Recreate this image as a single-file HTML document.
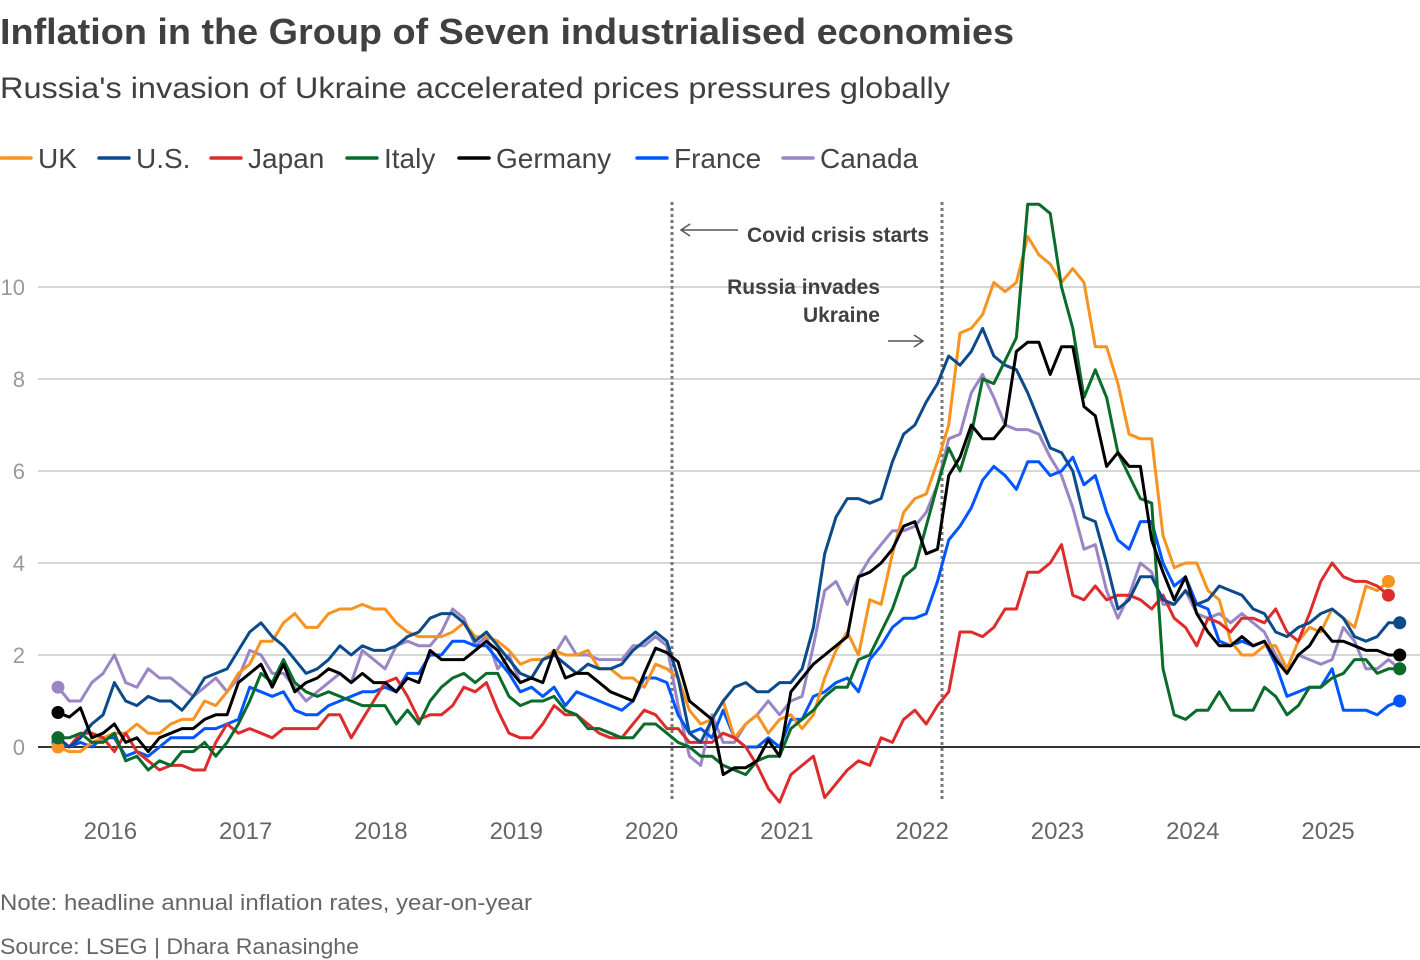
<!DOCTYPE html>
<html><head><meta charset="utf-8"><style>
body{margin:0;background:#fff;width:1420px;height:960px;overflow:hidden;font-family:"Liberation Sans",sans-serif}
svg{position:absolute;left:0;top:0}
</style></head><body>
<svg id="chart" width="1420" height="960">
<text x="0" y="44" font-size="36" font-weight="bold" fill="#404040" textLength="1014" lengthAdjust="spacingAndGlyphs">Inflation in the Group of Seven industrialised economies</text>
<text x="0" y="98" font-size="30" fill="#404040" textLength="950" lengthAdjust="spacingAndGlyphs">Russia's invasion of Ukraine accelerated prices pressures globally</text>
<g id="legend"></g>
<g id="grid"></g>
<g id="xaxis"></g>
<g id="events">
<line x1="672" y1="202" x2="672" y2="802" stroke="#777" stroke-width="3" stroke-dasharray="3,3"/>
<line x1="942" y1="202" x2="942" y2="802" stroke="#777" stroke-width="3" stroke-dasharray="3,3"/>
<g>
<line x1="682" y1="230" x2="738" y2="230" stroke="#555" stroke-width="1.5"/><path d="M690,224 L681,230 L690,236" fill="none" stroke="#555" stroke-width="1.5"/>
<text x="747" y="242" font-size="21" font-weight="bold" fill="#404040">Covid crisis starts</text></g>
<g>
<text x="880" y="294" font-size="21" font-weight="bold" fill="#404040" text-anchor="end">Russia invades</text>
<text x="880" y="322" font-size="21" font-weight="bold" fill="#404040" text-anchor="end">Ukraine</text>
<line x1="888" y1="341" x2="922" y2="341" stroke="#555" stroke-width="1.5"/><path d="M914,335 L923,341 L914,347" fill="none" stroke="#555" stroke-width="1.5"/></g>
</g>
<g id="series"></g>
<text x="0" y="910" font-size="22" fill="#666" textLength="532" lengthAdjust="spacingAndGlyphs">Note: headline annual inflation rates, year-on-year</text>
<text x="0" y="954" font-size="22" fill="#666" textLength="359" lengthAdjust="spacingAndGlyphs">Source: LSEG | Dhara Ranasinghe</text>
</svg>
<script>
// months indexed from Aug 2015
const yTicks=[0,2,4,6,8,10];
const years=[2016,2017,2018,2019,2020,2021,2022,2023,2024,2025];
const names=["UK","U.S.","Japan","Italy","Germany","France","Canada"];
const uk=[0.0,-0.1,-0.1,0.1,0.2,
0.3,0.3,0.5,0.3,0.3,0.5,0.6,0.6,1.0,0.9,1.2,1.6,
1.8,2.3,2.3,2.7,2.9,2.6,2.6,2.9,3.0,3.0,3.1,3.0,
3.0,2.7,2.5,2.4,2.4,2.4,2.5,2.7,2.4,2.4,2.3,2.1,
1.8,1.9,1.9,2.1,2.0,2.0,2.1,1.7,1.7,1.5,1.5,1.3,
1.8,1.7,1.5,0.8,0.5,0.6,1.0,0.2,0.5,0.7,0.3,0.6,
0.7,0.4,0.7,1.5,2.1,2.5,2.0,3.2,3.1,4.2,5.1,5.4,
5.5,6.2,7.0,9.0,9.1,9.4,10.1,9.9,10.1,11.1,10.7,10.5,
10.1,10.4,10.1,8.7,8.7,7.9,6.8,6.7,6.7,4.6,3.9,4.0,
4.0,3.4,3.2,2.3,2.0,2.0,2.2,2.2,1.7,2.3,2.6,2.5,
3.0,2.8,2.6,3.5,3.4,3.6];
const us=[0.2,0.0,0.2,0.5,0.7,
1.4,1.0,0.9,1.1,1.0,1.0,0.8,1.1,1.5,1.6,1.7,2.1,
2.5,2.7,2.4,2.2,1.9,1.6,1.7,1.9,2.2,2.0,2.2,2.1,
2.1,2.2,2.4,2.5,2.8,2.9,2.9,2.7,2.3,2.5,2.2,1.9,
1.6,1.5,1.9,2.0,1.8,1.6,1.8,1.7,1.7,1.8,2.1,2.3,
2.5,2.3,1.5,0.3,0.1,0.6,1.0,1.3,1.4,1.2,1.2,1.4,
1.4,1.7,2.6,4.2,5.0,5.4,5.4,5.3,5.4,6.2,6.8,7.0,
7.5,7.9,8.5,8.3,8.6,9.1,8.5,8.3,8.2,7.7,7.1,6.5,
6.4,6.0,5.0,4.9,4.0,3.0,3.2,3.7,3.7,3.2,3.1,3.4,
3.1,3.2,3.5,3.4,3.3,3.0,2.9,2.5,2.4,2.6,2.7,2.9,
3.0,2.8,2.4,2.3,2.4,2.7,2.7];
const japan=[0.2,0.0,0.3,0.3,0.2,
-0.1,0.3,-0.1,-0.3,-0.5,-0.4,-0.4,-0.5,-0.5,0.1,0.5,0.3,
0.4,0.3,0.2,0.4,0.4,0.4,0.4,0.7,0.7,0.2,0.6,1.0,
1.4,1.5,1.1,0.6,0.7,0.7,0.9,1.3,1.2,1.4,0.8,0.3,
0.2,0.2,0.5,0.9,0.7,0.7,0.5,0.3,0.2,0.2,0.5,0.8,
0.7,0.4,0.4,0.1,0.1,0.1,0.3,0.2,0.0,-0.4,-0.9,-1.2,
-0.6,-0.4,-0.2,-1.1,-0.8,-0.5,-0.3,-0.4,0.2,0.1,0.6,0.8,
0.5,0.9,1.2,2.5,2.5,2.4,2.6,3.0,3.0,3.8,3.8,4.0,
4.4,3.3,3.2,3.5,3.2,3.3,3.3,3.2,3.0,3.3,2.8,2.6,
2.2,2.8,2.7,2.5,2.8,2.8,2.7,3.0,2.5,2.3,2.9,3.6,
4.0,3.7,3.6,3.6,3.5,3.3];
const italy=[0.2,0.2,0.3,0.1,0.1,
0.3,-0.3,-0.2,-0.5,-0.3,-0.4,-0.1,-0.1,0.1,-0.2,0.1,0.5,
1.0,1.6,1.4,1.9,1.4,1.2,1.1,1.2,1.1,1.0,0.9,0.9,
0.9,0.5,0.8,0.5,1.0,1.3,1.5,1.6,1.4,1.6,1.6,1.1,
0.9,1.0,1.0,1.1,0.8,0.7,0.4,0.4,0.3,0.2,0.2,0.5,
0.5,0.3,0.1,0.0,-0.2,-0.2,-0.4,-0.5,-0.6,-0.3,-0.2,-0.2,
0.4,0.6,0.8,1.1,1.3,1.3,1.9,2.0,2.5,3.0,3.7,3.9,
4.8,5.7,6.5,6.0,6.8,8.0,7.9,8.4,8.9,11.8,11.8,11.6,
10.0,9.1,7.6,8.2,7.6,6.4,5.9,5.4,5.3,1.7,0.7,0.6,
0.8,0.8,1.2,0.8,0.8,0.8,1.3,1.1,0.7,0.9,1.3,1.3,
1.5,1.6,1.9,1.9,1.6,1.7,1.7];
const germany=[0.75,0.65,0.85,0.2,0.3,
0.5,0.1,0.2,-0.1,0.2,0.3,0.4,0.4,0.6,0.7,0.7,1.4,
1.6,1.8,1.3,1.8,1.2,1.4,1.5,1.7,1.6,1.4,1.6,1.4,
1.4,1.2,1.5,1.4,2.1,1.9,1.9,1.9,2.1,2.3,2.1,1.7,
1.4,1.5,1.4,2.1,1.5,1.6,1.6,1.4,1.2,1.1,1.0,1.6,
2.15,2.05,1.85,1.0,0.8,0.6,-0.6,-0.45,-0.45,-0.3,0.15,-0.2,
1.2,1.5,1.8,2.0,2.2,2.4,3.7,3.8,4.0,4.3,4.8,4.9,
4.2,4.3,5.9,6.3,7.0,6.7,6.7,7.0,8.6,8.8,8.8,8.1,
8.7,8.7,7.4,7.2,6.1,6.4,6.1,6.1,4.5,3.8,3.2,3.7,
2.9,2.5,2.2,2.2,2.4,2.2,2.3,1.9,1.6,2.0,2.2,2.6,
2.3,2.3,2.2,2.1,2.1,2.0,2.0];
const france=[0.1,0.0,0.1,0.0,0.2,
0.2,-0.2,-0.1,-0.2,0.0,0.2,0.2,0.2,0.4,0.4,0.5,0.6,
1.3,1.2,1.1,1.2,0.8,0.7,0.7,0.9,1.0,1.1,1.2,1.2,
1.3,1.2,1.6,1.6,2.0,2.0,2.3,2.3,2.2,2.2,1.9,1.6,
1.2,1.3,1.1,1.3,0.9,1.2,1.1,1.0,0.9,0.8,1.0,1.5,
1.5,1.4,0.7,0.3,0.4,0.2,0.8,0.2,0.0,0.0,0.2,0.0,
0.6,0.6,1.1,1.2,1.4,1.5,1.2,1.9,2.2,2.6,2.8,2.8,
2.9,3.6,4.5,4.8,5.2,5.8,6.1,5.9,5.6,6.2,6.2,5.9,
6.0,6.3,5.7,5.9,5.1,4.5,4.3,4.9,4.9,4.0,3.5,3.7,
3.1,3.0,2.3,2.2,2.3,2.2,2.3,1.8,1.1,1.2,1.3,1.3,
1.7,0.8,0.8,0.8,0.7,0.9,1.0];
const canada=[1.3,1.0,1.0,1.4,1.6,
2.0,1.4,1.3,1.7,1.5,1.5,1.3,1.1,1.3,1.5,1.2,1.5,
2.1,2.0,1.6,1.6,1.3,1.0,1.2,1.4,1.6,1.4,2.1,1.9,
1.7,2.2,2.3,2.2,2.2,2.5,3.0,2.8,2.2,2.4,1.7,2.0,
1.4,1.5,1.9,2.0,2.4,2.0,2.0,1.9,1.9,1.9,2.2,2.2,
2.4,2.2,0.9,-0.2,-0.4,0.7,0.1,0.1,0.5,0.7,1.0,0.7,
1.0,1.1,2.2,3.4,3.6,3.1,3.7,4.1,4.4,4.7,4.7,4.8,
5.1,5.7,6.7,6.8,7.7,8.1,7.6,7.0,6.9,6.9,6.8,6.3,
5.9,5.2,4.3,4.4,3.4,2.8,3.3,4.0,3.8,3.1,3.1,3.4,
2.9,2.8,2.9,2.7,2.9,2.7,2.5,2.0,1.6,2.0,1.9,1.8,
1.9,2.6,2.3,1.7,1.7,1.9,1.7];

const NS="http://www.w3.org/2000/svg";
const X0=58, STEP=11.275;
function xScale(i){return X0+i*STEP;}
function yScale(v){return 747-v*46;}
function yearX(yr){return xScale((yr-2016)*12+5)-4;}
function mk(tag,attrs,parent){const e=document.createElementNS(NS,tag);for(const k in attrs)e.setAttribute(k,attrs[k]);parent.appendChild(e);return e;}

const grid=document.getElementById('grid');
yTicks.forEach(t=>{
  const l=mk('line',{x1:38,x2:1420,y1:yScale(t),y2:yScale(t),stroke:t===0?'#333':'#c8c8c8','stroke-width':t===0?2:1.5},grid);
  
  
  const tx=mk('text',{x:25,y:yScale(t)+8,'font-size':22,fill:'#999','text-anchor':'end'},grid);
  tx.textContent=String(t);
  
  
});
const xa=document.getElementById('xaxis');
years.forEach(yr=>{
  const tx=mk('text',{x:yearX(yr),y:839,'font-size':24,fill:'#666','text-anchor':'middle'},xa);
  tx.textContent=String(yr);
  
  
});

const seriesData=[uk,us,japan,italy,germany,france,canada];
const colors=["#f7931e","#0d4a8a","#dd2c2c","#0a6b2a","#000000","#0055ff","#9a86c4"];
const drawOrder=[6,5,0,2,1,3,4];
const sg=document.getElementById('series');
drawOrder.forEach(k=>{
  const d=seriesData[k];
  const pts=d.map((v,i)=>xScale(i).toFixed(1)+','+yScale(v).toFixed(1)).join(' ');
  const g=mk('g',{},sg);
  
  
  const pl=mk('polyline',{points:pts,fill:'none',stroke:colors[k],'stroke-width':3,'stroke-linejoin':'round'},g);
  
  
  [0,d.length-1].forEach(i=>{
    const c=mk('circle',{cx:xScale(i),cy:yScale(d[i]),r:6.5,fill:colors[k]},g);
    
    
  });
});

const legendX=[0,98,210,346,458,636,782];
const lg=document.getElementById('legend');
names.forEach((n,k)=>{
  const g=mk('g',{},lg);
  
  
  mk('line',{x1:legendX[k]+1,x2:legendX[k]+31,y1:158,y2:158,stroke:colors[k],'stroke-width':3.5,'stroke-linecap':'round'},g);
  const t=mk('text',{x:legendX[k]+38,y:168,'font-size':28,fill:'#444'},g);
  t.textContent=n;
});
</script>
</body></html>
